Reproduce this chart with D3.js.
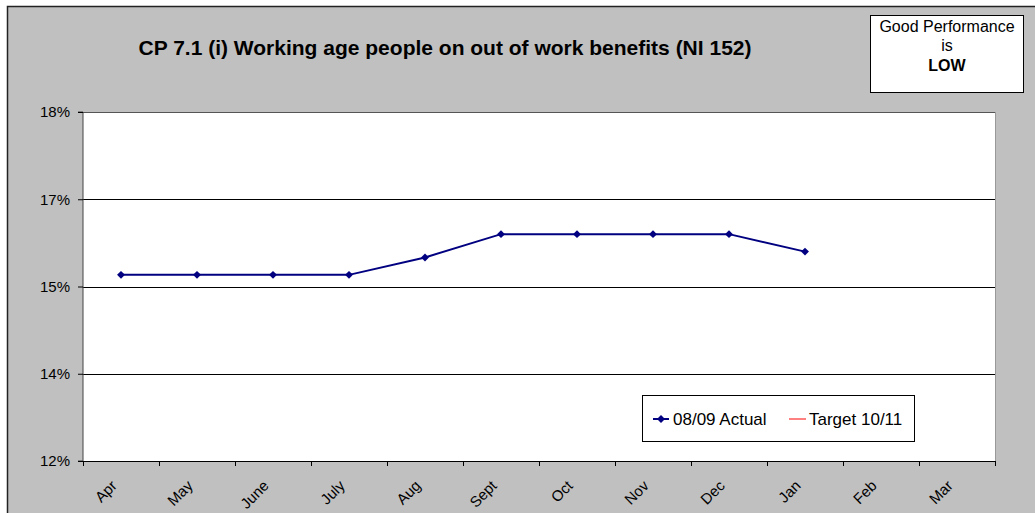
<!DOCTYPE html>
<html><head><meta charset="utf-8">
<script src="https://cdn.jsdelivr.net/npm/d3@7"></script>
<style>body{margin:0;background:#fff;font-family:"Liberation Sans",Arial,sans-serif}</style>
</head><body><svg id="c" width="1035" height="513"></svg>
<script>
const categories=["Apr","May","June","July","Aug","Sept","Oct","Nov","Dec","Jan","Feb","Mar"];
const actual=[15.2,15.2,15.2,15.2,15.5,15.9,15.9,15.9,15.9,15.6,null,null];
const target=[null,null,null,null,null,null,null,null,null,null,null,null];
const yTicks=[12,13.5,15,16.5,18];
const yTickLabels=["12%","14%","15%","17%","18%"];
const seriesNames=["08/09 Actual","Target 10/11"];

const svg=d3.select("#c");
svg.append("rect").attr("x",7.5).attr("y",6.5).attr("width",1040).attr("height",520).attr("fill","#c0c0c0").attr("stroke","#222").attr("stroke-width",1.5);
const L=83,R=995,T=112,B=461;
const x=d3.scaleBand().domain(categories).range([L,R]);
const y=d3.scaleLinear().domain([12,18]).range([B,T]);
svg.append("rect").attr("x",L).attr("y",T).attr("width",R-L).attr("height",B-T).attr("fill","#fff");
svg.append("line").attr("x1",R+0.5).attr("x2",R+0.5).attr("y1",T).attr("y2",B).attr("stroke","#999");
svg.append("g").selectAll("line").data(yTicks).join("line")
 .attr("x1",L).attr("x2",R).attr("y1",d=>Math.round(y(d))+0.5).attr("y2",d=>Math.round(y(d))+0.5)
 .attr("stroke",d=>d===18?"#555":"#000").attr("stroke-width",1);
const ya=svg.append("g").attr("transform",`translate(${L},0)`).call(d3.axisLeft(y).tickValues(yTicks).tickSize(5).tickPadding(8).tickFormat((d,i)=>yTickLabels[i]));
ya.select(".domain").attr("stroke","#444").attr("d",`M-5,${T}H0V${B}H-5`);
ya.selectAll("text").attr("font-family","Liberation Sans, Arial").attr("font-size",15).attr("fill","#000");
ya.selectAll("line").attr("stroke","#000");
const xa=svg.append("g").attr("transform",`translate(0,${B})`);
xa.append("line").attr("x1",L).attr("x2",R).attr("y1",0.5).attr("y2",0.5).attr("stroke","#000");
const bounds=categories.map(c=>x(c)).concat([R]);
xa.selectAll("line.t").data(bounds).join("line").attr("class","t")
 .attr("x1",d=>Math.round(d)+0.5).attr("x2",d=>Math.round(d)+0.5).attr("y1",0).attr("y2",5).attr("stroke","#000");
xa.selectAll("text").data(categories).join("text")
 .attr("transform",d=>`translate(${x(d)+x.bandwidth()/2-7},${22}) rotate(-45)`)
 .attr("text-anchor","end").attr("dy","0.35em").attr("font-size",15).text(d=>d);
const cx=d=>x(d)+x.bandwidth()/2;
const pts=categories.map((c,i)=>({c,v:actual[i]})).filter(d=>d.v!=null);
svg.append("path").datum(pts).attr("fill","none").attr("stroke","#000080").attr("stroke-width",2)
 .attr("d",d3.line().x(d=>cx(d.c)).y(d=>y(d.v)));
const diamond=d3.symbol().type(d3.symbolDiamond2).size(40);
svg.append("g").selectAll("path").data(pts).join("path").attr("d",diamond)
 .attr("transform",d=>`translate(${cx(d.c)},${y(d.v)})`).attr("fill","#000080");
svg.append("text").attr("x",445).attr("y",55).attr("text-anchor","middle").attr("font-weight","bold").attr("font-size",21).text("CP 7.1 (i) Working age people on out of work benefits (NI 152)");
svg.append("rect").attr("x",870.5).attr("y",15.5).attr("width",153).attr("height",77).attr("fill","#fff").attr("stroke","#000");
svg.append("text").attr("x",947).attr("y",32).attr("text-anchor","middle").attr("font-size",16).text("Good Performance");
svg.append("text").attr("x",947).attr("y",51).attr("text-anchor","middle").attr("font-size",16).text("is");
svg.append("text").attr("x",947).attr("y",71).attr("text-anchor","middle").attr("font-size",16).attr("font-weight","bold").text("LOW");
const lg=svg.append("g");
lg.append("rect").attr("x",642.5).attr("y",395.5).attr("width",272).attr("height",46).attr("fill","#fff").attr("stroke","#000");
lg.append("line").attr("x1",653).attr("x2",669).attr("y1",419).attr("y2",419).attr("stroke","#000080").attr("stroke-width",2);
lg.append("path").attr("d",diamond).attr("transform","translate(661,419)").attr("fill","#000080");
lg.append("text").attr("x",673).attr("y",425).attr("font-size",17).text(seriesNames[0]);
lg.append("line").attr("x1",789).attr("x2",806).attr("y1",419).attr("y2",419).attr("stroke","#ff8080").attr("stroke-width",2);
lg.append("text").attr("x",809).attr("y",425).attr("font-size",17).text(seriesNames[1]);
</script></body></html>
